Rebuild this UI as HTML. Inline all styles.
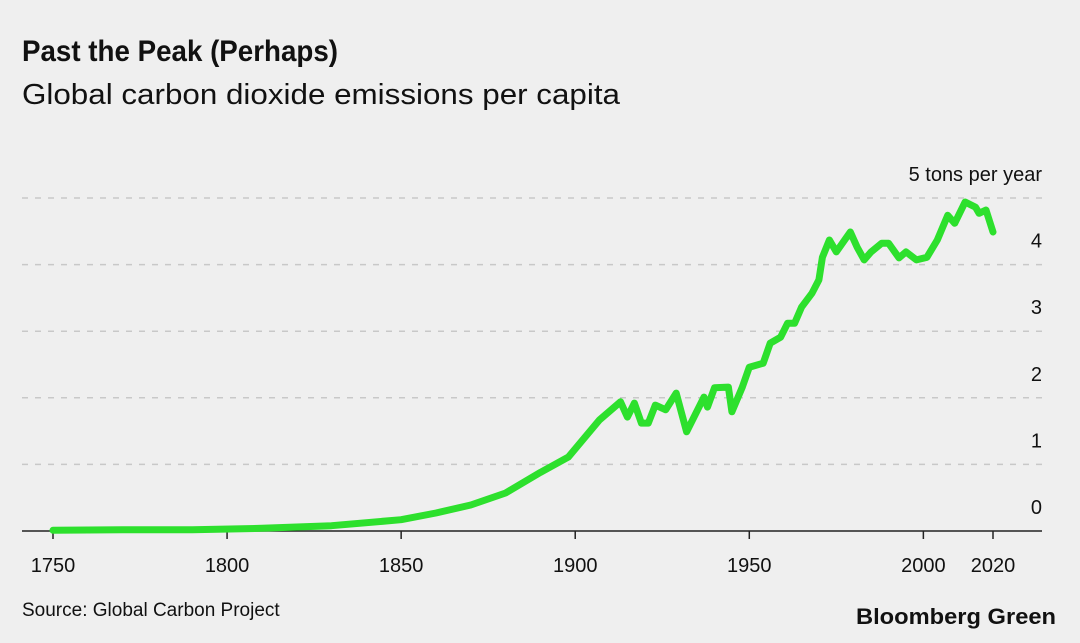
<!DOCTYPE html>
<html><head><meta charset="utf-8"><style>
html,body{margin:0;padding:0;background:#efefef;}
svg{display:block;font-family:"Liberation Sans",Arial,sans-serif;}
</style></head><body>
<svg id="chart" width="1080" height="643" viewBox="0 0 1080 643">
<rect width="1080" height="643" fill="#efefef"/>
<text x="22" y="61" font-size="30" font-weight="bold" fill="#111" textLength="316" lengthAdjust="spacingAndGlyphs">Past the Peak (Perhaps)</text>
<text x="22" y="104" font-size="29" fill="#111" textLength="598" lengthAdjust="spacingAndGlyphs">Global carbon dioxide emissions per capita</text>
<g id="grid"></g>
<g id="xaxis"></g>
<g id="yaxis"></g>
<path id="line" fill="none" stroke="#2de02d" stroke-width="7" stroke-linejoin="round" stroke-linecap="round"/>
<text x="22" y="616" font-size="19" fill="#111">Source: Global Carbon Project</text>
<text x="1056" y="624" font-size="22" font-weight="bold" fill="#111" text-anchor="end" textLength="200" lengthAdjust="spacingAndGlyphs">Bloomberg Green</text>
</svg>
<script>
const years=[1750,1770,1790,1810,1830,1850,1860,1870,1880,1890,1898,1907,1913,1915,1917,1919,1921,1923,1926,1929,1932,1937,1938,1940,1944,1945,1948,1950,1954,1956,1959,1961,1963,1965,1968,1970,1971,1973,1975,1979,1981,1983,1985,1988,1990,1993,1995,1998,2001,2004,2007,2009,2012,2015,2016,2018,2020];
const values=[0.01,0.02,0.02,0.04,0.08,0.17,0.27,0.39,0.57,0.88,1.11,1.67,1.94,1.71,1.92,1.62,1.62,1.89,1.82,2.07,1.49,2.01,1.86,2.15,2.16,1.79,2.16,2.46,2.52,2.82,2.91,3.12,3.12,3.36,3.57,3.77,4.11,4.37,4.19,4.49,4.26,4.07,4.19,4.32,4.32,4.10,4.19,4.07,4.11,4.37,4.74,4.62,4.94,4.86,4.77,4.82,4.49];
const xTicks=[1750,1800,1850,1900,1950,2000,2020];
const yTicks=[0,1,2,3,4,5];
const yTickLabels=["0","1","2","3","4","5 tons per year"];
const NS="http://www.w3.org/2000/svg";
function xs(y){return 53+(y-1750)*(993-53)/270;}
function ys(v){return 531-v*66.6;}
const grid=document.getElementById('grid'),xa=document.getElementById('xaxis'),ya=document.getElementById('yaxis');
yTicks.forEach((t,i)=>{
  const l=document.createElementNS(NS,'line');
  l.setAttribute('x1',22);l.setAttribute('x2',1042);
  l.setAttribute('y1',ys(t));l.setAttribute('y2',ys(t));
  if(t===0){l.setAttribute('stroke','#222');l.setAttribute('stroke-width','1.5');}
  else{l.setAttribute('stroke','#c8c8c8');l.setAttribute('stroke-width','1.5');l.setAttribute('stroke-dasharray','6 7');}
  
  
  grid.appendChild(l);
  const tx=document.createElementNS(NS,'text');
  tx.setAttribute('x',1042);tx.setAttribute('y',ys(t)-17);
  tx.setAttribute('text-anchor','end');tx.setAttribute('font-size','20');tx.setAttribute('fill','#111');
  tx.textContent=yTickLabels[i];
  
  
  ya.appendChild(tx);
});
xTicks.forEach(t=>{
  const l=document.createElementNS(NS,'line');
  l.setAttribute('x1',xs(t));l.setAttribute('x2',xs(t));l.setAttribute('y1',531);l.setAttribute('y2',539);
  l.setAttribute('stroke','#222');l.setAttribute('stroke-width','1.5');
  
  
  xa.appendChild(l);
  const tx=document.createElementNS(NS,'text');
  tx.setAttribute('x',xs(t));tx.setAttribute('y',572);
  tx.setAttribute('text-anchor','middle');tx.setAttribute('font-size','20');tx.setAttribute('fill','#111');
  tx.textContent=t;
  
  
  xa.appendChild(tx);
});
document.getElementById('line').setAttribute('d',years.map((y,i)=>(i?'L':'M')+xs(y).toFixed(1)+' '+ys(values[i]).toFixed(1)).join(' '));
</script>
</body></html>
